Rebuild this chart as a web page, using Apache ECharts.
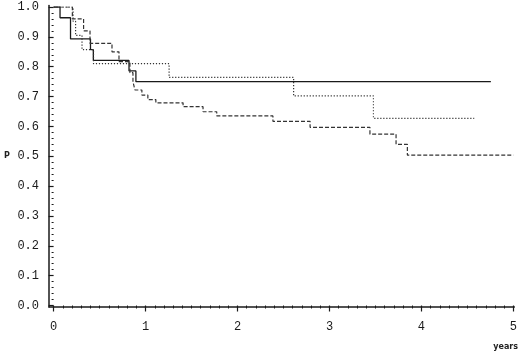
<!DOCTYPE html>
<html>
<head>
<meta charset="utf-8">
<script src="https://cdn.jsdelivr.net/npm/echarts@6/dist/echarts.min.js"></script>
<style>
html,body{margin:0;padding:0;background:#fff;}
#c{width:520px;height:353px;}
</style>
</head>
<body>
<div id="c"></div>
<script>
// Tick labels
var xTicks = [0, 1, 2, 3, 4, 5];
var yTicks = [0.0, 0.1, 0.2, 0.3, 0.4, 0.5, 0.6, 0.7, 0.8, 0.9, 1.0];
var xTitle = 'years';
var yTitle = 'P';

// Group 1 (solid)
var solidT = [0, 0.07, 0.184, 0.401, 0.432, 0.82, 0.895, 4.755];
var solidS = [1.0, 0.964, 0.893, 0.857, 0.821, 0.786, 0.750, 0.750];

// Group 2 (dotted)
var dottedT = [0, 0.212, 0.239, 0.309, 0.434, 1.256, 2.610, 3.478, 4.574];
var dottedS = [1.0, 0.952, 0.905, 0.857, 0.810, 0.764, 0.702, 0.627, 0.627];

// Group 3 (dashed)
var dashedT = [0, 0.204, 0.326, 0.396, 0.635, 0.711, 0.830, 0.863, 0.884, 0.960, 1.025, 1.112, 1.408, 1.625, 1.774, 2.385, 2.789, 3.440, 3.724, 3.847, 5.0];
var dashedS = [1.0, 0.960, 0.920, 0.878, 0.850, 0.817, 0.780, 0.750, 0.722, 0.705, 0.690, 0.679, 0.666, 0.649, 0.635, 0.617, 0.597, 0.574, 0.540, 0.504, 0.504];

function zip(t, s) { return t.map(function (v, i) { return [v, s[i]]; }); }

var axisCol = '#1a1a1a';
var labelFont = { fontFamily: 'Liberation Mono', fontSize: 12, color: '#1a1a1a' };

var chart = echarts.init(document.getElementById('c'), null, { renderer: 'canvas' });
chart.setOption({
  backgroundColor: '#fff',
  animation: false,
  grid: [
    { left: 49, right: 5.7, top: 5.5, bottom: 46 },      // frame lines only
    { left: 53.6, right: 5.7, top: 7, bottom: 47.5 }     // data + ticks
  ],
  xAxis: [{
    gridIndex: 0, type: 'value', position: 'bottom', min: 0, max: 1,
    axisLine: { show: true, lineStyle: { color: axisCol, width: 1.5 } },
    axisTick: { show: false }, axisLabel: { show: false }, splitLine: { show: false }
  }, {
    gridIndex: 1, type: 'value', position: 'bottom', min: xTicks[0], max: xTicks[xTicks.length - 1], interval: 1,
    offset: 1.5,
    axisLine: { show: false },
    axisTick: { show: true, length: 6, lineStyle: { color: axisCol, width: 1.2 } },
    minorTick: { show: true, splitNumber: 10, length: 3, lineStyle: { color: axisCol, width: 1 } },
    axisLabel: Object.assign({ show: true, margin: 14 }, labelFont),
    splitLine: { show: false }, minorSplitLine: { show: false }
  }],
  yAxis: [{
    gridIndex: 0, type: 'value', position: 'left', min: 0, max: 1,
    axisLine: { show: true, lineStyle: { color: axisCol, width: 1.5 } },
    axisTick: { show: false }, axisLabel: { show: false }, splitLine: { show: false }
  }, {
    gridIndex: 1, type: 'value', position: 'left', min: yTicks[0], max: yTicks[yTicks.length - 1], interval: 0.1,
    offset: 4.6,
    axisLine: { show: false },
    axisTick: { show: true, length: 5, lineStyle: { color: axisCol, width: 1.2 } },
    minorTick: { show: true, splitNumber: 5, length: 2, lineStyle: { color: axisCol, width: 1 } },
    axisLabel: Object.assign({ show: true, margin: 10, formatter: function (v) { return v.toFixed(1); } }, labelFont),
    splitLine: { show: false }, minorSplitLine: { show: false }
  }],
  graphic: [
    { type: 'text', left: 4, top: 152, style: { text: yTitle, font: 'bold 8px "DejaVu Sans"', fill: '#222' } },
    { type: 'text', right: 2, top: 343, style: { text: xTitle, font: 'bold 8px "DejaVu Sans"', fill: '#222' } }
  ],
  series: [{
    type: 'line', step: 'end', showSymbol: false, xAxisIndex: 1, yAxisIndex: 1,
    data: zip(solidT, solidS),
    lineStyle: { color: '#1a1a1a', width: 1.3, type: 'solid' }
  }, {
    type: 'line', step: 'end', showSymbol: false, xAxisIndex: 1, yAxisIndex: 1,
    data: zip(dottedT, dottedS),
    lineStyle: { color: '#333', width: 1.2, type: [1.2, 1.8] }
  }, {
    type: 'line', step: 'end', showSymbol: false, xAxisIndex: 1, yAxisIndex: 1,
    data: zip(dashedT, dashedS),
    lineStyle: { color: '#333', width: 1.2, type: [4, 2] }
  }]
});
</script>
</body>
</html>
